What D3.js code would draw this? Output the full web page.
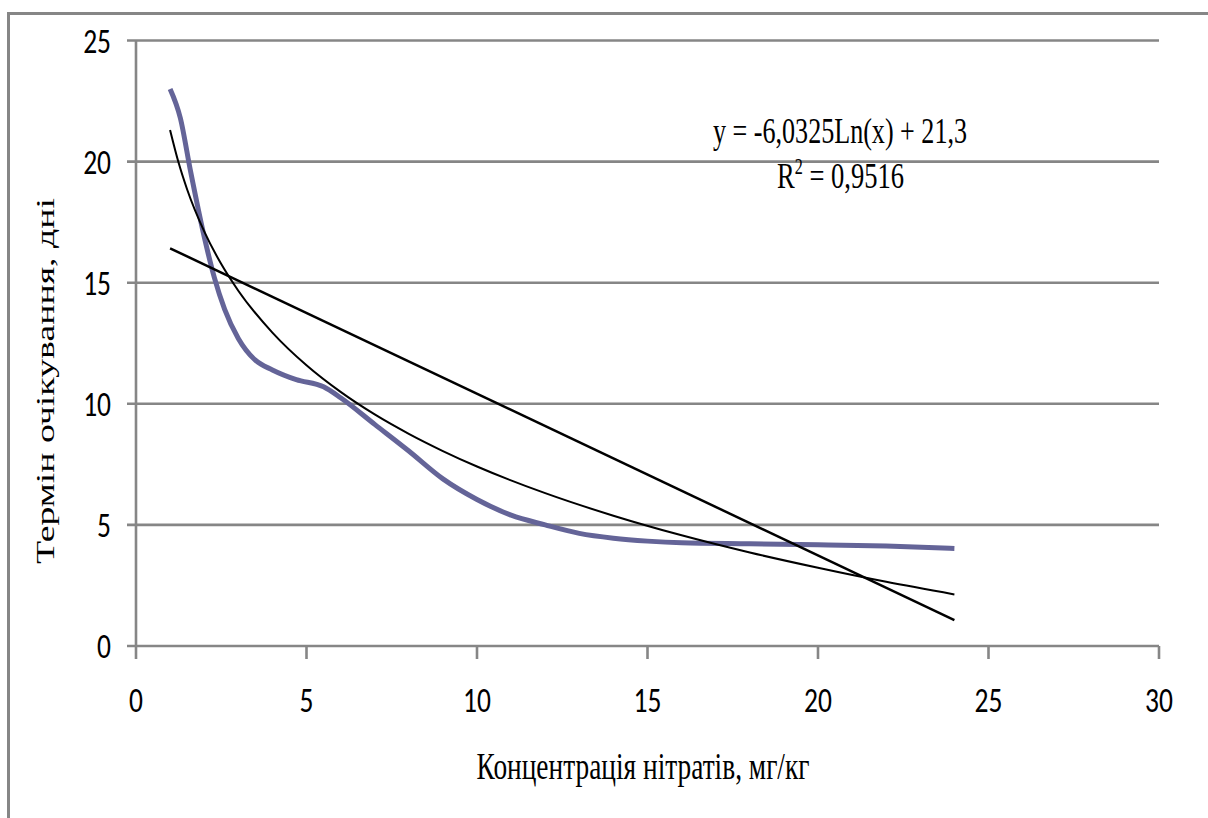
<!DOCTYPE html>
<html>
<head>
<meta charset="utf-8">
<script src="https://cdn.jsdelivr.net/npm/d3@7"></script>
<style>
  html, body { margin: 0; padding: 0; background: #fff; }
  svg { display: block; }
</style>
</head>
<body>
<div id="chart"></div>
<script>
const concX = [1, 1.3, 1.6, 2, 2.3, 2.6, 3, 3.5, 4, 4.7, 5.5, 6, 7, 8, 9, 10, 11, 12, 13, 14, 15, 16, 18, 20, 22, 24];
const daysY = [23.0, 21.8, 19.6, 16.9, 15.2, 13.9, 12.7, 11.8, 11.4, 11.0, 10.7, 10.25, 9.15, 8.05, 6.9, 6.05, 5.4, 5.0, 4.65, 4.45, 4.33, 4.26, 4.22, 4.18, 4.13, 4.03];

// logarithmic trendline, points
const logTrendX = [1, 1.25, 1.5, 2, 2.5, 3, 4, 5, 6, 7, 8, 9, 10, 12, 14, 16, 18, 20, 22, 24];
const logTrendY = [21.3, 19.95, 18.85, 17.12, 15.77, 14.67, 12.94, 11.59, 10.49, 9.56, 8.76, 8.05, 7.41, 6.31, 5.38, 4.57, 3.86, 3.23, 2.65, 2.13];

// linear trendline endpoints
const linTrendX = [1, 24];
const linTrendY = [16.42, 1.07];

const xTicks = [0, 5, 10, 15, 20, 25, 30];
const yTicks = [0, 5, 10, 15, 20, 25];

const eqText = "y = -6,0325Ln(x) + 21,3";
const r2Value = "0,9516";
const xTitle = "Концентрація нітратів, мг/кг";
const yTitle = "Термін очікування, дні";

const width = 1208, height = 818;
const plot = { left: 136, right: 1159, top: 40.5, bottom: 646 };
const gridColor = "#868686";
const stretch = 1.3; // the original picture is stretched vertically

const svg = d3.select("#chart").append("svg")
  .attr("width", width)
  .attr("height", height);

// outer chart border (right and bottom are cut off)
svg.append("rect")
  .attr("x", 8.5).attr("y", 13.5)
  .attr("width", 1230).attr("height", 830)
  .attr("fill", "none")
  .attr("stroke", gridColor)
  .attr("stroke-width", 3);

const x = d3.scaleLinear().domain([0, 30]).range([plot.left, plot.right]);
const y = d3.scaleLinear().domain([0, 25]).range([plot.bottom, plot.top]);

// horizontal gridlines (with tick stubs on the left)
svg.append("g")
  .selectAll("line")
  .data(yTicks)
  .join("line")
  .attr("x1", plot.left - 9)
  .attr("x2", plot.right)
  .attr("y1", d => y(d))
  .attr("y2", d => y(d))
  .attr("stroke", gridColor)
  .attr("stroke-width", 2.6);

// y axis line
svg.append("line")
  .attr("x1", plot.left).attr("x2", plot.left)
  .attr("y1", plot.top).attr("y2", plot.bottom)
  .attr("stroke", gridColor)
  .attr("stroke-width", 2.6);

// x ticks
svg.append("g")
  .selectAll("line")
  .data(xTicks)
  .join("line")
  .attr("x1", d => x(d)).attr("x2", d => x(d))
  .attr("y1", plot.bottom).attr("y2", plot.bottom + 13)
  .attr("stroke", gridColor)
  .attr("stroke-width", 2.6);

// text helper: draws text squeezed to match the stretched original
function stretchedText(parent, tx, ty, str, opts) {
  const t = parent.append("text")
    .attr("transform", `translate(${tx},${ty}) scale(1,${stretch})`)
    .attr("text-anchor", opts.anchor || "middle")
    .attr("font-family", opts.font)
    .attr("font-size", opts.size)
    .attr("fill", "#000")
    .text(str);
  if (opts.len) t.attr("textLength", opts.len).attr("lengthAdjust", "spacingAndGlyphs");
  return t;
}

const tickFont = "Carlito, Calibri, Lato, sans-serif";
const serif = "'Liberation Serif', 'Times New Roman', serif";

// y tick labels
yTicks.forEach(d => {
  stretchedText(svg, 111, y(d) + 12, d, { anchor: "end", font: tickFont, size: 27.5 });
});

// x tick labels
xTicks.forEach(d => {
  stretchedText(svg, x(d), 712, d, { anchor: "middle", font: tickFont, size: 27.5 });
});

// series
const line = d3.line().x(d => x(d[0])).y(d => y(d[1]));

svg.append("path")
  .datum(concX.map((c, i) => [c, daysY[i]]))
  .attr("d", line.curve(d3.curveMonotoneX))
  .attr("fill", "none")
  .attr("stroke", "#646498")
  .attr("stroke-width", 5)
  .attr("stroke-linejoin", "round");

svg.append("path")
  .datum(logTrendX.map((c, i) => [c, logTrendY[i]]))
  .attr("d", d3.line().x(d => x(d[0])).y(d => y(d[1])).curve(d3.curveMonotoneX))
  .attr("fill", "none")
  .attr("stroke", "#000")
  .attr("stroke-width", 2);

svg.append("path")
  .datum(linTrendX.map((c, i) => [c, linTrendY[i]]))
  .attr("d", d3.line().x(d => x(d[0])).y(d => y(d[1])))
  .attr("fill", "none")
  .attr("stroke", "#000")
  .attr("stroke-width", 2.5);

// trendline equation
stretchedText(svg, 840, 143, eqText, { anchor: "middle", font: serif, size: 28, len: 254 });

const r2 = svg.append("text")
  .attr("transform", `translate(777,188) scale(1,${stretch})`)
  .attr("font-family", serif)
  .attr("font-size", 28)
  .attr("textLength", 127)
  .attr("lengthAdjust", "spacingAndGlyphs")
  .attr("fill", "#000");
r2.append("tspan").text("R");
r2.append("tspan").attr("font-size", 17).attr("dy", -11).text("2");
r2.append("tspan").attr("dy", 11).text(" = " + r2Value);

// axis titles
stretchedText(svg, 643, 779, xTitle, { anchor: "middle", font: serif, size: 29, len: 333 });

svg.append("text")
  .attr("transform", `translate(54,381) rotate(-90)`)
  .attr("text-anchor", "middle")
  .attr("font-family", serif)
  .attr("font-size", 26)
  .attr("textLength", 366)
  .attr("lengthAdjust", "spacingAndGlyphs")
  .attr("fill", "#000")
  .text(yTitle);
</script>
</body>
</html>
